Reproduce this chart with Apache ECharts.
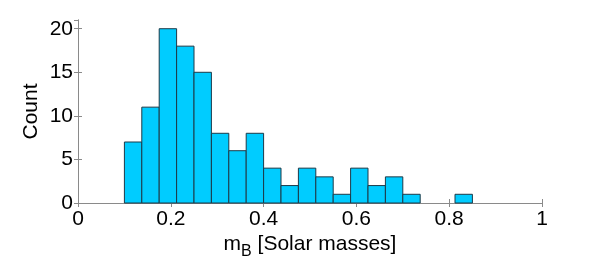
<!DOCTYPE html>
<html><head><meta charset="utf-8">
<script src="https://cdn.jsdelivr.net/npm/echarts@6/dist/echarts.min.js"></script>
<style>html,body{margin:0;padding:0;background:#fff}#c{width:598px;height:265px}</style>
</head><body><div id="c"></div>
<script>
const binStart = 0.1;
const binWidth = 0.0375;
const counts = [7, 11, 20, 18, 15, 8, 6, 8, 4, 2, 4, 3, 1, 4, 2, 3, 1, 0, 0, 1];
const xTicks = [0, 0.2, 0.4, 0.6, 0.8, 1];
const yTicks = [0, 5, 10, 15, 20];

const data = counts.map((c, i) => [binStart + i * binWidth, binStart + (i + 1) * binWidth, c]);
const font = 'Liberation Sans';
const axisCol = '#8a8a8a';
const chart = echarts.init(document.getElementById('c'));
const common = {
  axisLine: { show: true, lineStyle: { color: axisCol, width: 1 } },
  axisTick: { show: true, inside: true, length: 4, lineStyle: { color: axisCol } },
  splitLine: { show: false }
};
chart.setOption({
  animation: false,
  grid: { left: 78, right: 56, top: 20, bottom: 57 },
  xAxis: [
    Object.assign({}, common, {
      type: 'value', min: 0, max: 1, interval: 0.2, position: 'bottom',
      name: '{m|m}{s|B}{m| [Solar masses]}', nameLocation: 'middle', nameGap: 25,
      nameMoveOverlap: false,
      nameTextStyle: { rich: { m: { fontFamily: font, fontSize: 21, color: '#000' }, s: { fontFamily: font, fontSize: 16, color: '#000', padding: [16, 0, 0, 0] } } },
      axisLabel: { fontFamily: font, fontSize: 21, color: '#000', margin: 6, formatter: v => String(Math.round(v * 10) / 10) }
    }),
    Object.assign({}, common, {
      type: 'value', min: 0, max: 1, interval: 0.2, position: 'top',
      axisLabel: { show: false }
    })
  ],
  yAxis: [
    Object.assign({}, common, {
      type: 'value', min: 0, max: 21, interval: 5, position: 'left',
      name: 'Count', nameLocation: 'middle', nameGap: 36, nameRotate: 90,
      nameMoveOverlap: false,
      nameTextStyle: { fontFamily: font, fontSize: 21, color: '#000' },
      axisLabel: { fontFamily: font, fontSize: 21, color: '#000', margin: 5, showMaxLabel: false }
    }),
    Object.assign({}, common, {
      type: 'value', min: 0, max: 21, interval: 5, position: 'right',
      axisLabel: { show: false }
    })
  ],
  series: [{
    type: 'custom',
    xAxisIndex: 0, yAxisIndex: 0,
    data: data,
    renderItem: function (params, api) {
      if (api.value(2) <= 0) return null;
      const p0 = api.coord([api.value(0), api.value(2)]);
      const p1 = api.coord([api.value(1), 0]);
      return {
        type: 'rect',
        shape: { x: p0[0], y: p0[1], width: p1[0] - p0[0], height: p1[1] - p0[1] },
        style: { fill: '#00CCFF', stroke: '#1d3a48', lineWidth: 1 }
      };
    }
  }]
});
</script></body></html>
